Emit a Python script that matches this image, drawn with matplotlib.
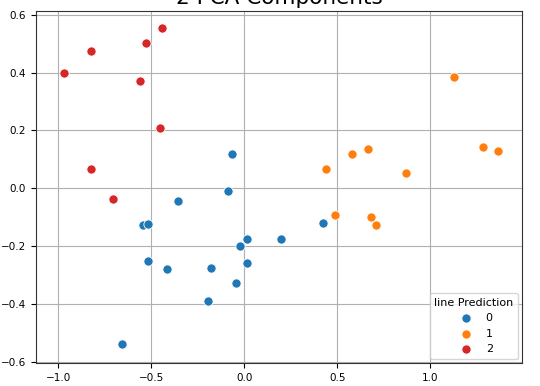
import numpy as np
import matplotlib
matplotlib.use("Agg")
import matplotlib.pyplot as plt

# PCA components per predicted cluster
pc1_0 = [-0.064, -0.089, -0.355, -0.543, -0.516, 0.013, -0.023, 0.197, 0.425,
         -0.518, -0.414, -0.179, 0.013, -0.043, -0.194, -0.659]
pc2_0 = [0.120, -0.010, -0.044, -0.126, -0.124, -0.175, -0.200, -0.175, -0.119,
         -0.250, -0.280, -0.276, -0.258, -0.326, -0.389, -0.539]

pc1_1 = [1.127, 1.285, 1.362, 0.868, 0.581, 0.663, 0.441, 0.488, 0.680, 0.705]
pc2_1 = [0.383, 0.143, 0.129, 0.053, 0.120, 0.134, 0.068, -0.091, -0.099, -0.126]

pc1_2 = [-0.971, -0.826, -0.530, -0.442, -0.559, -0.453, -0.826, -0.704]
pc2_2 = [0.399, 0.474, 0.501, 0.553, 0.369, 0.209, 0.065, -0.037]

labels = ['0', '1', '2']
colors = ['#1f77b4', '#ff7f0e', '#d62728']

fig = plt.figure(figsize=(5.4, 3.86), dpi=100)
ax = fig.add_axes([0.066, 0.059, 0.901, 0.912])

groups = [(pc1_0, pc2_0), (pc1_1, pc2_1), (pc1_2, pc2_2)]
for (xs, ys), lab, col in zip(groups, labels, colors):
    ax.scatter(xs, ys, s=44, c=col, edgecolors='white', linewidths=0.6,
               label=lab, zorder=3)

ax.set_xlim(-1.122, 1.493)
ax.set_ylim(-0.605, 0.612)
ax.set_xticks([-1.0, -0.5, 0.0, 0.5, 1.0])
ax.set_yticks([-0.6, -0.4, -0.2, 0.0, 0.2, 0.4, 0.6])
ax.tick_params(labelsize=7.5, length=3.5)
ax.grid(True, color='#b0b0b0', linewidth=0.8)
for sp in ax.spines.values():
    sp.set_color('#333333')

ax.set_title('2 PCA Components', fontsize=15.5, pad=5)
ax.set_xlabel('PCA 1', fontsize=11, labelpad=8)

leg = ax.legend(title='line Prediction', loc='lower right', fontsize=8,
                title_fontsize=8, markerscale=1.0, borderaxespad=0.4)

fig.savefig('out.png', dpi=100)
